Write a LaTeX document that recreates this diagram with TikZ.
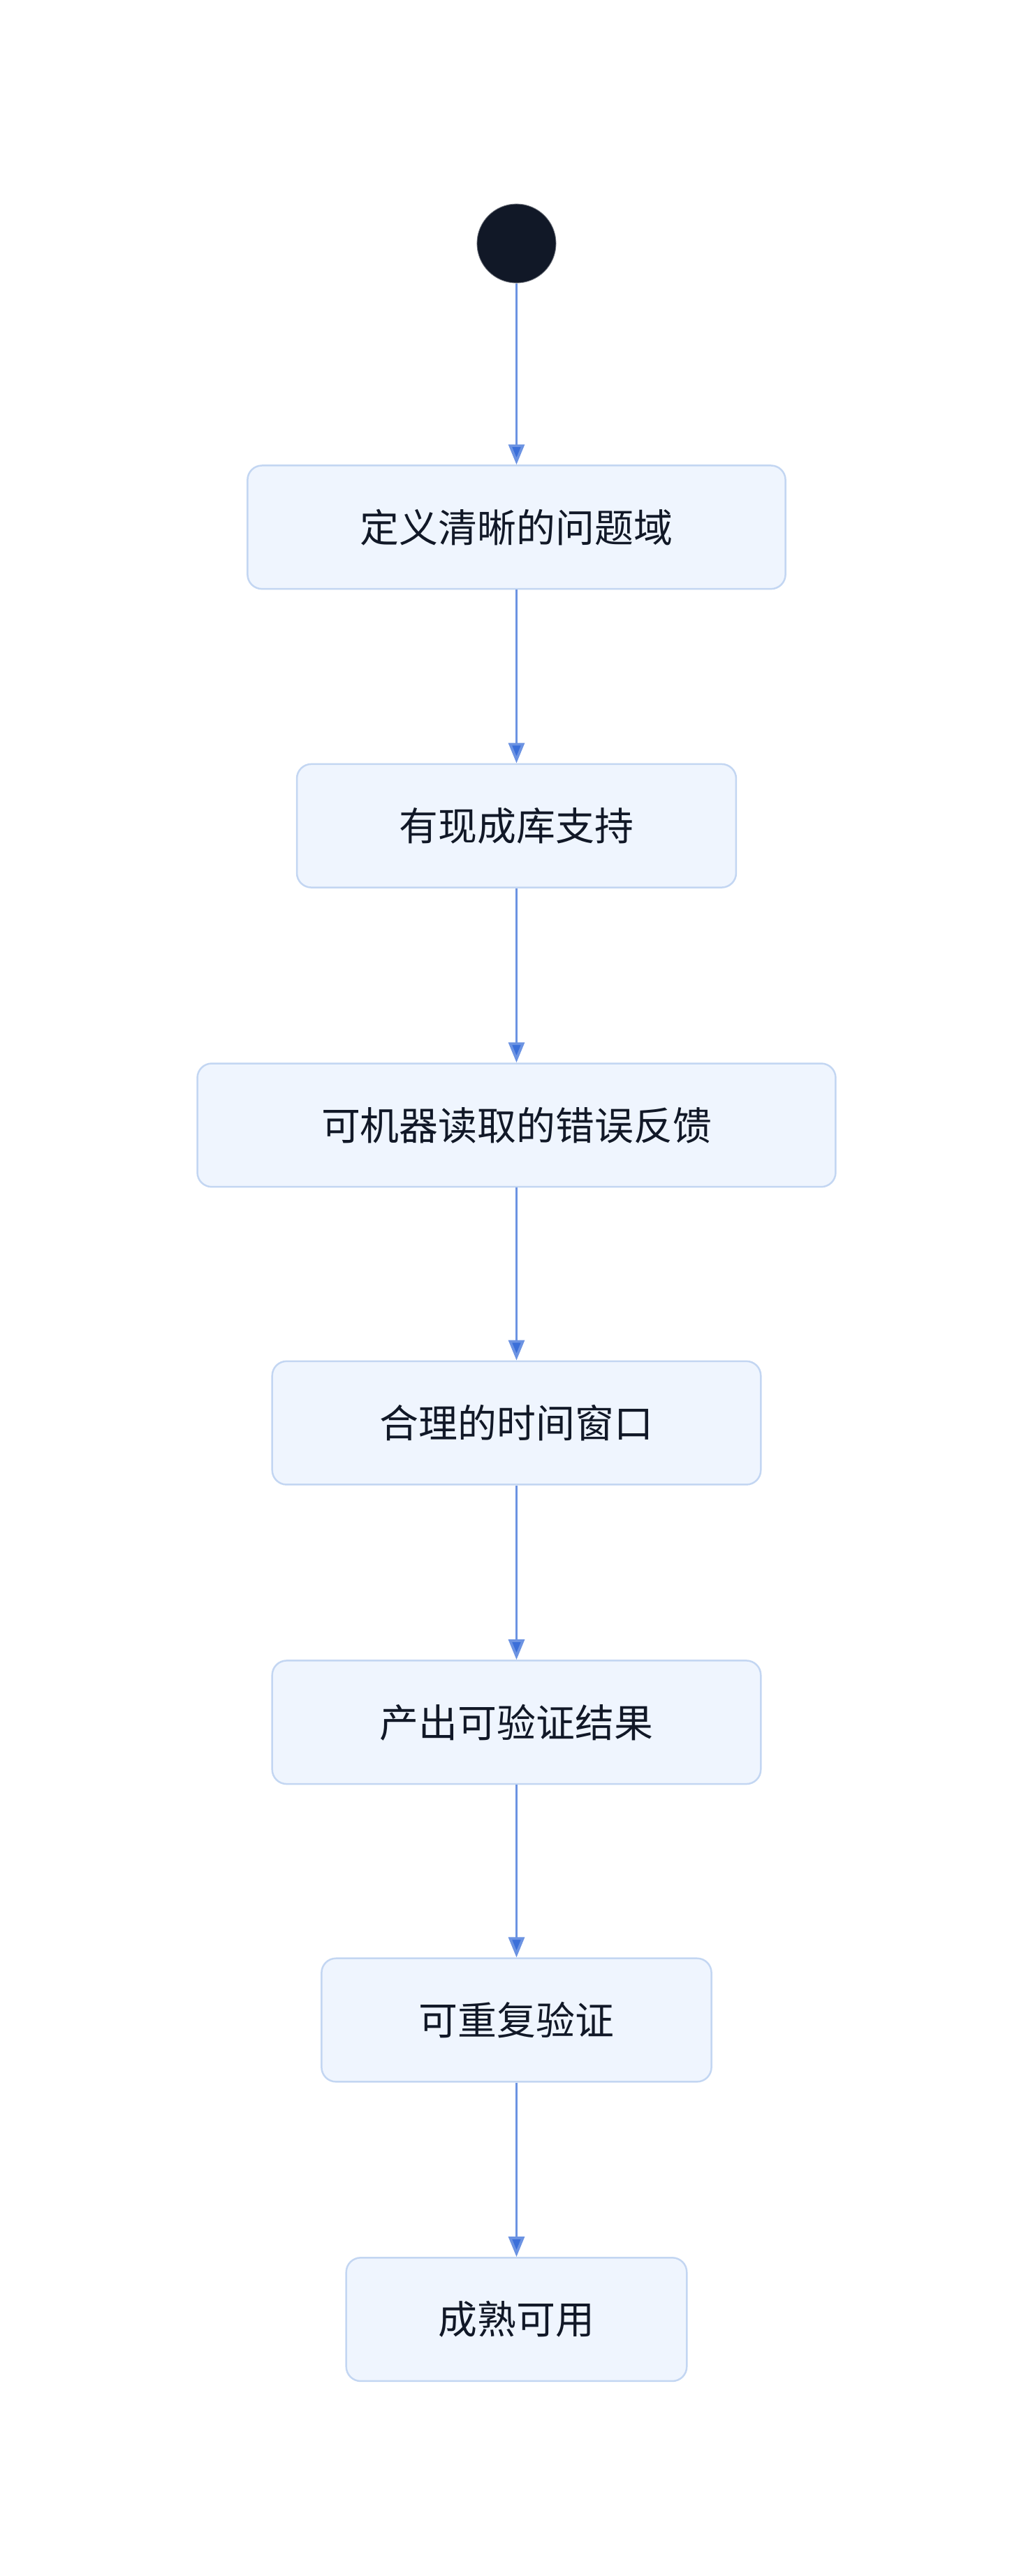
\documentclass[tikz,border=0pt]{standalone}
\usepackage{fontspec}
\newfontfamily\cjk{Noto Sans CJK SC}
\usetikzlibrary{arrows.meta}
\definecolor{boxfill}{HTML}{EFF5FE}
\definecolor{boxline}{HTML}{C3D6F2}
\definecolor{flow}{HTML}{3B6FD9}
\definecolor{ink}{HTML}{111827}
\tikzset{
  stage/.style={draw=boxline, fill=boxfill, line width=1.2pt, rounded corners=10pt,
    minimum height=3cm, inner sep=0pt, font=\cjk\fontsize{27}{32}\selectfont, text=ink},
  flowline/.style={draw=flow!75, line width=1.8pt, -{Triangle[length=14pt,width=11pt,fill=flow]}}
}
\begin{document}
\begin{tikzpicture}[x=0.04cm, y=-0.04cm]
  \useasboundingbox (0,0) rectangle (628,1566);
  \node[circle, fill=ink, draw=ink!60, minimum size=1.92cm, inner sep=0pt] (S) at (314,148) {};
  \node[stage, minimum width=13.08cm] (A1) at (314,320.5) {定义清晰的问题域};
  \node[stage, minimum width=10.68cm] (A2) at (314,502) {有现成库支持};
  \node[stage, minimum width=15.52cm] (A3) at (314,684) {可机器读取的错误反馈};
  \node[stage, minimum width=11.88cm] (A4) at (314,865) {合理的时间窗口};
  \node[stage, minimum width=11.88cm] (A5) at (314,1047) {产出可验证结果};
  \node[stage, minimum width=9.48cm] (A6) at (314,1228) {可重复验证};
  \node[stage, minimum width=8.28cm] (A7) at (314,1410) {成熟可用};

  \draw[flowline] (S) -- (A1);
  \draw[flowline] (A1) -- (A2);
  \draw[flowline] (A2) -- (A3);
  \draw[flowline] (A3) -- (A4);
  \draw[flowline] (A4) -- (A5);
  \draw[flowline] (A5) -- (A6);
  \draw[flowline] (A6) -- (A7);
\end{tikzpicture}
\end{document}
